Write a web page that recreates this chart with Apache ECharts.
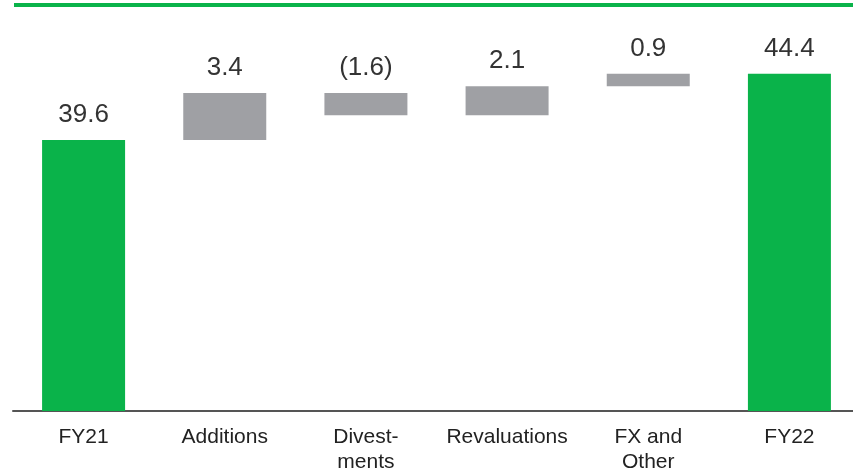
<!DOCTYPE html>
<html>
<head>
<meta charset="utf-8">
<style>
  html, body { margin: 0; padding: 0; background: #fff; overflow: hidden; }
  #chart { width: 861px; height: 475px; }
</style>
<script src="https://cdn.jsdelivr.net/npm/echarts@6/dist/echarts.min.js"></script>
</head>
<body>
<div id="chart"></div>
<script>
// Bridge categories and movements (totals at both ends)
const categories = ['FY21', 'Additions', 'Divest-\nments', 'Revaluations', 'FX and\nOther', 'FY22'];
const movements = [39.6, 3.4, -1.6, 2.1, 0.9, 44.4];
const isTotal = [true, false, false, false, false, true];

const GREEN = '#0AB34A';
const GREY = '#9FA0A4';
const FONT = 'Liberation Sans, Arial, sans-serif';

// Invisible offsets and visible bar heights for the waterfall
const offsets = [];
const heights = [];
let running = 0;
movements.forEach((v, i) => {
  if (isTotal[i]) {
    offsets.push(0);
    heights.push(v);
    running = v;
  } else {
    const next = running + v;
    offsets.push(Math.min(running, next));
    heights.push(Math.abs(v));
    running = next;
  }
});

const fmt = v => v < 0 ? '(' + Math.abs(v).toFixed(1) + ')' : v.toFixed(1);

const chart = echarts.init(document.getElementById('chart'), null, { renderer: 'canvas' });
chart.setOption({
  animation: false,
  backgroundColor: '#fff',
  graphic: [{
    type: 'rect',
    shape: { x: 14, y: 3, width: 847, height: 4 },
    style: { fill: GREEN }
  }],
  grid: { left: 13, right: 1, top: 24, bottom: 63, containLabel: false },
  xAxis: {
    type: 'category',
    data: categories,
    axisTick: { show: false },
    axisLine: { lineStyle: { color: '#555', width: 2 } },
    axisLabel: {
      color: '#222',
      fontFamily: FONT,
      fontSize: 21,
      lineHeight: 25,
      margin: 14,
      interval: 0
    }
  },
  yAxis: {
    type: 'value',
    min: 20,
    max: 48,
    show: false,
    splitLine: { show: false }
  },
  series: [
    {
      type: 'bar',
      stack: 'bridge',
      data: offsets,
      barWidth: 83,
      itemStyle: { color: 'transparent' },
      emphasis: { disabled: true },
      silent: true
    },
    {
      type: 'bar',
      stack: 'bridge',
      barWidth: 83,
      data: heights.map((h, i) => ({
        value: h,
        itemStyle: { color: isTotal[i] ? GREEN : GREY }
      })),
      label: {
        show: true,
        position: 'top',
        distance: 12,
        color: '#333',
        fontFamily: FONT,
        fontSize: 26,
        formatter: p => fmt(movements[p.dataIndex])
      }
    }
  ]
});
</script>
</body>
</html>
